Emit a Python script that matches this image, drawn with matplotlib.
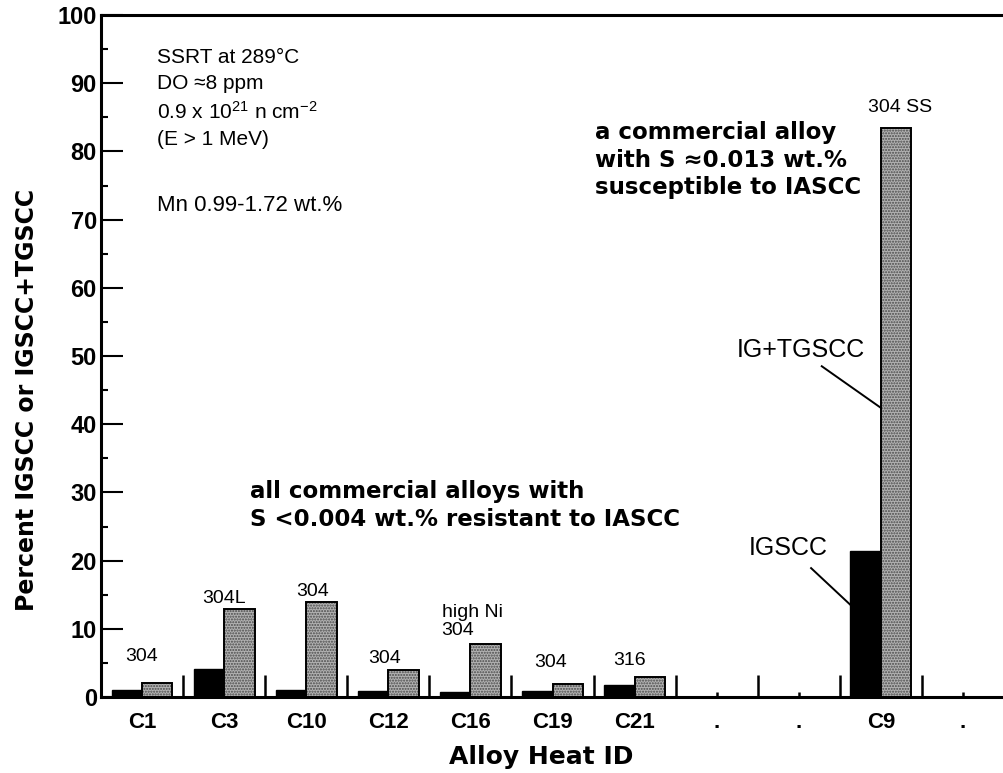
import matplotlib
matplotlib.use("Agg")
import matplotlib.pyplot as plt
from matplotlib.ticker import FixedLocator, MultipleLocator, NullFormatter

plt.rcParams["mathtext.fontset"] = "custom"
plt.rcParams["mathtext.rm"] = "Liberation Sans"
plt.rcParams["mathtext.it"] = "Liberation Sans:italic"
plt.rcParams["mathtext.bf"] = "Liberation Sans:bold"

# ---------------- data ----------------
heat_ids = ["C1", "C3", "C10", "C12", "C16", "C19", "C21", ".", ".", "C9", "."]
igscc = [1.0, 4.15, 1.0, 0.9, 0.8, 0.9, 1.8, None, None, 21.4, None]
ig_tgscc = [2.0, 12.9, 14.0, 4.0, 7.8, 1.9, 2.9, None, None, 83.4, None]
alloy_types = ["304", "304L", "304", "304", "high Ni\n304", "304", "316", "", "", "304 SS", ""]
yticks = [0, 10, 20, 30, 40, 50, 60, 70, 80, 90, 100]

SANS = ["Liberation Sans", "DejaVu Sans"]
BOLD = ["DejaVu Sans"]

fig = plt.figure(figsize=(10.04, 7.73), dpi=100)
ax = fig.add_axes([0.1006, 0.0983, 0.8994, 0.8823])

bw = 0.37
xs = [i for i, v in enumerate(igscc) if v is not None]
blk = [igscc[i] for i in xs]
gry = [ig_tgscc[i] for i in xs]

ax.bar([x - bw / 2 for x in xs], blk, width=bw, color="black", edgecolor="black", linewidth=1.0, zorder=2)
ax.bar([x + bw / 2 for x in xs], gry, width=bw, color="#b2b2b2", edgecolor="#4a4a4a",
       hatch="......", linewidth=0, zorder=2)
ax.bar([x + bw / 2 for x in xs], gry, width=bw, fill=False, edgecolor="black", linewidth=1.4, zorder=3)

ax.set_xlim(-0.5, 10.5)
ax.set_ylim(0, 100)

# spines
for s in ["left", "bottom", "top"]:
    ax.spines[s].set_linewidth(2.2)
ax.spines["right"].set_visible(False)

# y ticks
ax.yaxis.set_major_locator(FixedLocator(yticks))
ax.yaxis.set_minor_locator(MultipleLocator(5))
ax.tick_params(axis="y", which="major", direction="in", length=15.6, width=1.5, pad=3,
               labelsize=17)
ax.tick_params(axis="y", which="minor", direction="in", length=5, width=1.5)
for lab in ax.get_yticklabels():
    lab.set_fontfamily(SANS)
    lab.set_fontweight("bold")

# x ticks: separators as major (no labels), centers as minor (labels)
ax.xaxis.set_major_locator(FixedLocator([i + 0.5 for i in range(len(heat_ids) - 1)]))
ax.xaxis.set_major_formatter(NullFormatter())
ax.xaxis.set_minor_locator(FixedLocator(list(range(len(heat_ids)))))
ax.set_xticklabels(heat_ids, minor=True)
ax.tick_params(axis="x", which="major", direction="in", length=15.8, width=1.8)
ax.tick_params(axis="x", which="minor", direction="in", length=3.6, width=1.8, pad=11,
               labelsize=16)
for lab in ax.get_xticklabels(minor=True):
    lab.set_fontfamily(SANS)
    lab.set_fontweight("bold")
ax.tick_params(axis="both", which="both", right=False, top=False)

ax.set_ylabel("Percent IGSCC or IGSCC+TGSCC", fontsize=17, fontweight="bold", family=BOLD)
ax.yaxis.set_label_coords(-0.0687, 0.435)
ax.set_xlabel("Alloy Heat ID", fontsize=18, fontweight="bold", family=BOLD, va="center")
ax.xaxis.set_label_coords(0.487, -0.088)

# alloy-type annotations above bars
type_pos = {0: (0.0, 5.9, "center"), 1: (1.0, 14.5, "center"), 2: (2.08, 15.4, "center"),
            3: (2.96, 5.7, "center"), 4: (3.65, 11.1, "left"), 5: (4.98, 5.1, "center"),
            6: (5.94, 5.4, "center"), 9: (9.23, 86.4, "center")}
for i, (x, y, ha) in type_pos.items():
    ax.text(x, y, alloy_types[i], ha=ha, va="center", fontsize=14, family=SANS,
            linespacing=1.05)

# test-condition block
cond_lines = ["SSRT at 289°C", "DO ≈8 ppm", r"0.9 x 10$^{21}$ n cm$^{-2}$", "(E > 1 MeV)"]
cond_y = [93.8, 89.9, 85.8, 81.7]
for t, y in zip(cond_lines, cond_y):
    ax.text(0.18, y, t, ha="left", va="center", fontsize=15, family=SANS)
ax.text(0.18, 72.0, "Mn 0.99-1.72 wt.%", ha="left", va="center", fontsize=16, family=SANS)

# bold statements
ax.text(5.52, 78.7, "a commercial alloy\nwith S ≈0.013 wt.%\nsusceptible to IASCC",
        ha="left", va="center", fontsize=16.5, fontweight="bold", family=BOLD, linespacing=1.25)
ax.text(1.32, 28.1, "all commercial alloys with\nS <0.004 wt.% resistant to IASCC",
        ha="left", va="center", fontsize=16.5, fontweight="bold", family=BOLD, linespacing=1.25)

# leader labels
ax.text(8.03, 50.9, "IG+TGSCC", ha="center", va="center", fontsize=18, family=SANS)
ax.plot([8.28, 9.0], [48.5, 42.4], color="black", lw=1.4, zorder=4)
ax.text(7.87, 21.8, "IGSCC", ha="center", va="center", fontsize=18, family=SANS)
ax.plot([8.15, 8.63], [18.9, 13.5], color="black", lw=1.4, zorder=4)

fig.savefig("out.png", dpi=100)
